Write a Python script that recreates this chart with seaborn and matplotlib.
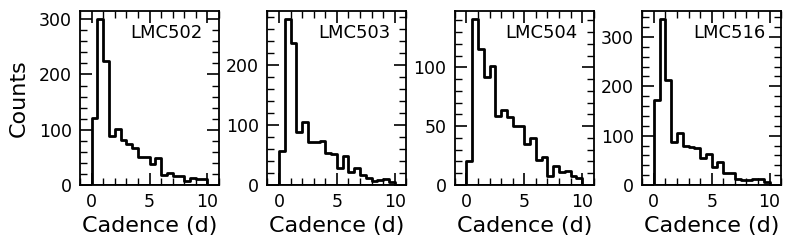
import numpy as np
import pandas as pd
import matplotlib
matplotlib.use("Agg")
import matplotlib.pyplot as plt
from matplotlib.ticker import MultipleLocator, AutoMinorLocator
import seaborn as sns

# Bins: 0 to 10 d, width 0.5 d; values are counts per bin (bin centres)
bin_centers = [0.25, 0.75, 1.25, 1.75, 2.25, 2.75, 3.25, 3.75, 4.25, 4.75,
               5.25, 5.75, 6.25, 6.75, 7.25, 7.75, 8.25, 8.75, 9.25, 9.75]

fields = ["LMC502", "LMC503", "LMC504", "LMC516"]

counts_lmc502 = [122, 300, 225, 88, 102, 82, 75, 67, 51, 51, 38, 48, 19, 22, 16, 16, 7, 12, 10, 10]
counts_lmc503 = [57, 277, 237, 89, 105, 72, 72, 74, 53, 51, 29, 48, 22, 28, 16, 12, 7, 9, 10, 5]
counts_lmc504 = [20, 141, 116, 92, 101, 59, 64, 58, 50, 50, 35, 40, 21, 24, 8, 16, 11, 12, 8, 6]
counts_lmc516 = [173, 336, 212, 88, 105, 80, 78, 74, 55, 63, 37, 46, 25, 24, 13, 10, 10, 13, 13, 7]

all_counts = [counts_lmc502, counts_lmc503, counts_lmc504, counts_lmc516]

x_label = "Cadence (d)"
y_label = "Counts"

sns.set_style("ticks")
plt.rcParams.update({
    "font.family": ["DejaVu Sans"],
    "text.color": "black",
    "axes.labelcolor": "black",
    "xtick.direction": "in",
    "ytick.direction": "in",
    "xtick.top": True,
    "ytick.right": True,
    "xtick.major.size": 8.5,
    "ytick.major.size": 8.5,
    "xtick.minor.size": 5,
    "ytick.minor.size": 5,
    "xtick.major.width": 1.2,
    "ytick.major.width": 1.2,
    "xtick.minor.width": 1.0,
    "ytick.minor.width": 1.0,
    "xtick.major.pad": 6,
    "ytick.major.pad": 6,
    "axes.linewidth": 1.3,
    "axes.edgecolor": "black",
    "xtick.color": "black",
    "ytick.color": "black",
    "xtick.labelsize": 12.5,
    "ytick.labelsize": 12.5,
    "axes.labelsize": 16,
})

fig, axes = plt.subplots(1, 4, figsize=(7.93, 2.48), dpi=100)
fig.subplots_adjust(left=0.101, right=0.985, top=0.956, bottom=0.254, wspace=0.35)

for ax, name, cnts in zip(axes, fields, all_counts):
    df = pd.DataFrame({"cadence": bin_centers, "n": cnts})
    sns.histplot(data=df, x="cadence", weights="n", binwidth=0.5, binrange=(0, 10),
                 element="step", fill=True, color="black", facecolor="none",
                 edgecolor="black", linewidth=2.0, ax=ax)
    ax.set_xlim(-1, 11)
    ax.set_ylim(0, max(cnts) * 1.05)
    ax.xaxis.set_major_locator(MultipleLocator(5))
    ax.xaxis.set_minor_locator(AutoMinorLocator())
    ax.yaxis.set_minor_locator(AutoMinorLocator())
    ax.tick_params(which="both", top=True, right=True, direction="in")
    ax.set_xlabel(x_label, fontsize=16, labelpad=3)
    ax.set_ylabel("")
    ax.text(0.885, 0.874, name, transform=ax.transAxes, ha="right", va="center",
            fontsize=13, color="black")
    for s in ax.spines.values():
        s.set_visible(True)

axes[0].set_ylabel(y_label, fontsize=16, labelpad=7)

fig.savefig("out.png", dpi=100)
